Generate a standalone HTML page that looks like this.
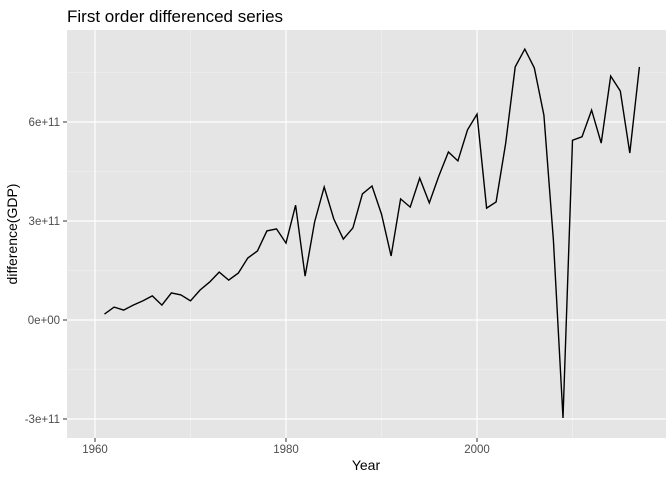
<!DOCTYPE html>
<html><head><meta charset="utf-8"><style>
body{margin:0;background:#fff;font-family:"Liberation Sans",Arial,sans-serif}
</style></head><body>
<svg id="chart" width="672" height="480" xmlns="http://www.w3.org/2000/svg">
<text x="67" y="22" font-size="17" fill="#000">First order differenced series</text>
<rect x="67" y="30" width="599" height="408" fill="#e5e5e5"/>
<g id="grid"></g>
<g id="axes"></g>
<path id="line" fill="none" stroke="#000" stroke-width="1.4"/>
<text x="366" y="470" font-size="14" text-anchor="middle">Year</text>
<text transform="translate(17,234) rotate(-90)" font-size="14" text-anchor="middle">difference(GDP)</text>
</svg>
<script>
const years=[1961,1962,1963,1964,1965,1966,1967,1968,1969,1970,1971,1972,1973,1974,1975,1976,1977,1978,1979,1980,1981,1982,1983,1984,1985,1986,1987,1988,1989,1990,1991,1992,1993,1994,1995,1996,1997,1998,1999,2000,2001,2002,2003,2004,2005,2006,2007,2008,2009,2010,2011,2012,2013,2014,2015,2016,2017];
const diffs=[0.18,0.39,0.30,0.45,0.58,0.73,0.45,0.82,0.76,0.58,0.91,1.15,1.45,1.21,1.42,1.88,2.09,2.70,2.76,2.33,3.48,1.33,2.97,4.03,3.06,2.45,2.79,3.82,4.06,3.21,1.94,3.67,3.42,4.30,3.55,4.36,5.09,4.82,5.76,6.24,3.39,3.58,5.36,7.67,8.21,7.64,6.21,2.42,-2.97,5.45,5.55,6.36,5.36,7.39,6.94,5.06,7.67];
const yTicks=[-3,0,3,6];
const yTickLabels=["-3e+11","0e+00","3e+11","6e+11"];
const xTicks=[1960,1980,2000];
const xMinor=[1970,1990,2010];
const yMinor=[-1.5,1.5,4.5,7.5];
const xs=y=>95+(y-1960)*9.55;
const ys=v=>320-v*33;
const NS="http://www.w3.org/2000/svg";
const grid=document.getElementById('grid'),axes=document.getElementById('axes');
function ln(p,x1,y1,x2,y2,c,w,name){const l=document.createElementNS(NS,'line');
l.setAttribute('x1',x1);l.setAttribute('y1',y1);l.setAttribute('x2',x2);l.setAttribute('y2',y2);
l.setAttribute('stroke',c);l.setAttribute('stroke-width',w);


p.appendChild(l);}
function tx(p,x,y,s,anchor,name){const t=document.createElementNS(NS,'text');
t.setAttribute('x',x);t.setAttribute('y',y);t.setAttribute('font-size','11.5');t.setAttribute('fill','#4d4d4d');t.setAttribute('text-anchor',anchor);t.textContent=s;


p.appendChild(t);}
yMinor.forEach(v=>ln(grid,67,ys(v),666,ys(v),'#f2f2f2',0.6,'y-minor-gridline'));
xMinor.forEach(v=>ln(grid,xs(v),30,xs(v),438,'#f2f2f2',0.6,'x-minor-gridline'));
yTicks.forEach((v,i)=>{ln(grid,67,ys(v),666,ys(v),'#fff',1.2,'y-major-gridline');ln(axes,63,ys(v),67,ys(v),'#333',1,'y-tick');tx(axes,60,ys(v)+4,yTickLabels[i],'end','y-tick-label');});
xTicks.forEach(v=>{ln(grid,xs(v),30,xs(v),438,'#fff',1.2,'x-major-gridline');ln(axes,xs(v),438,xs(v),442,'#333',1,'x-tick');tx(axes,xs(v),453,String(v),'middle','x-tick-label');});
document.getElementById('line').setAttribute('d',years.map((y,i)=>(i?'L':'M')+xs(y).toFixed(1)+','+ys(diffs[i]).toFixed(1)).join(''));
</script>
</body></html>
